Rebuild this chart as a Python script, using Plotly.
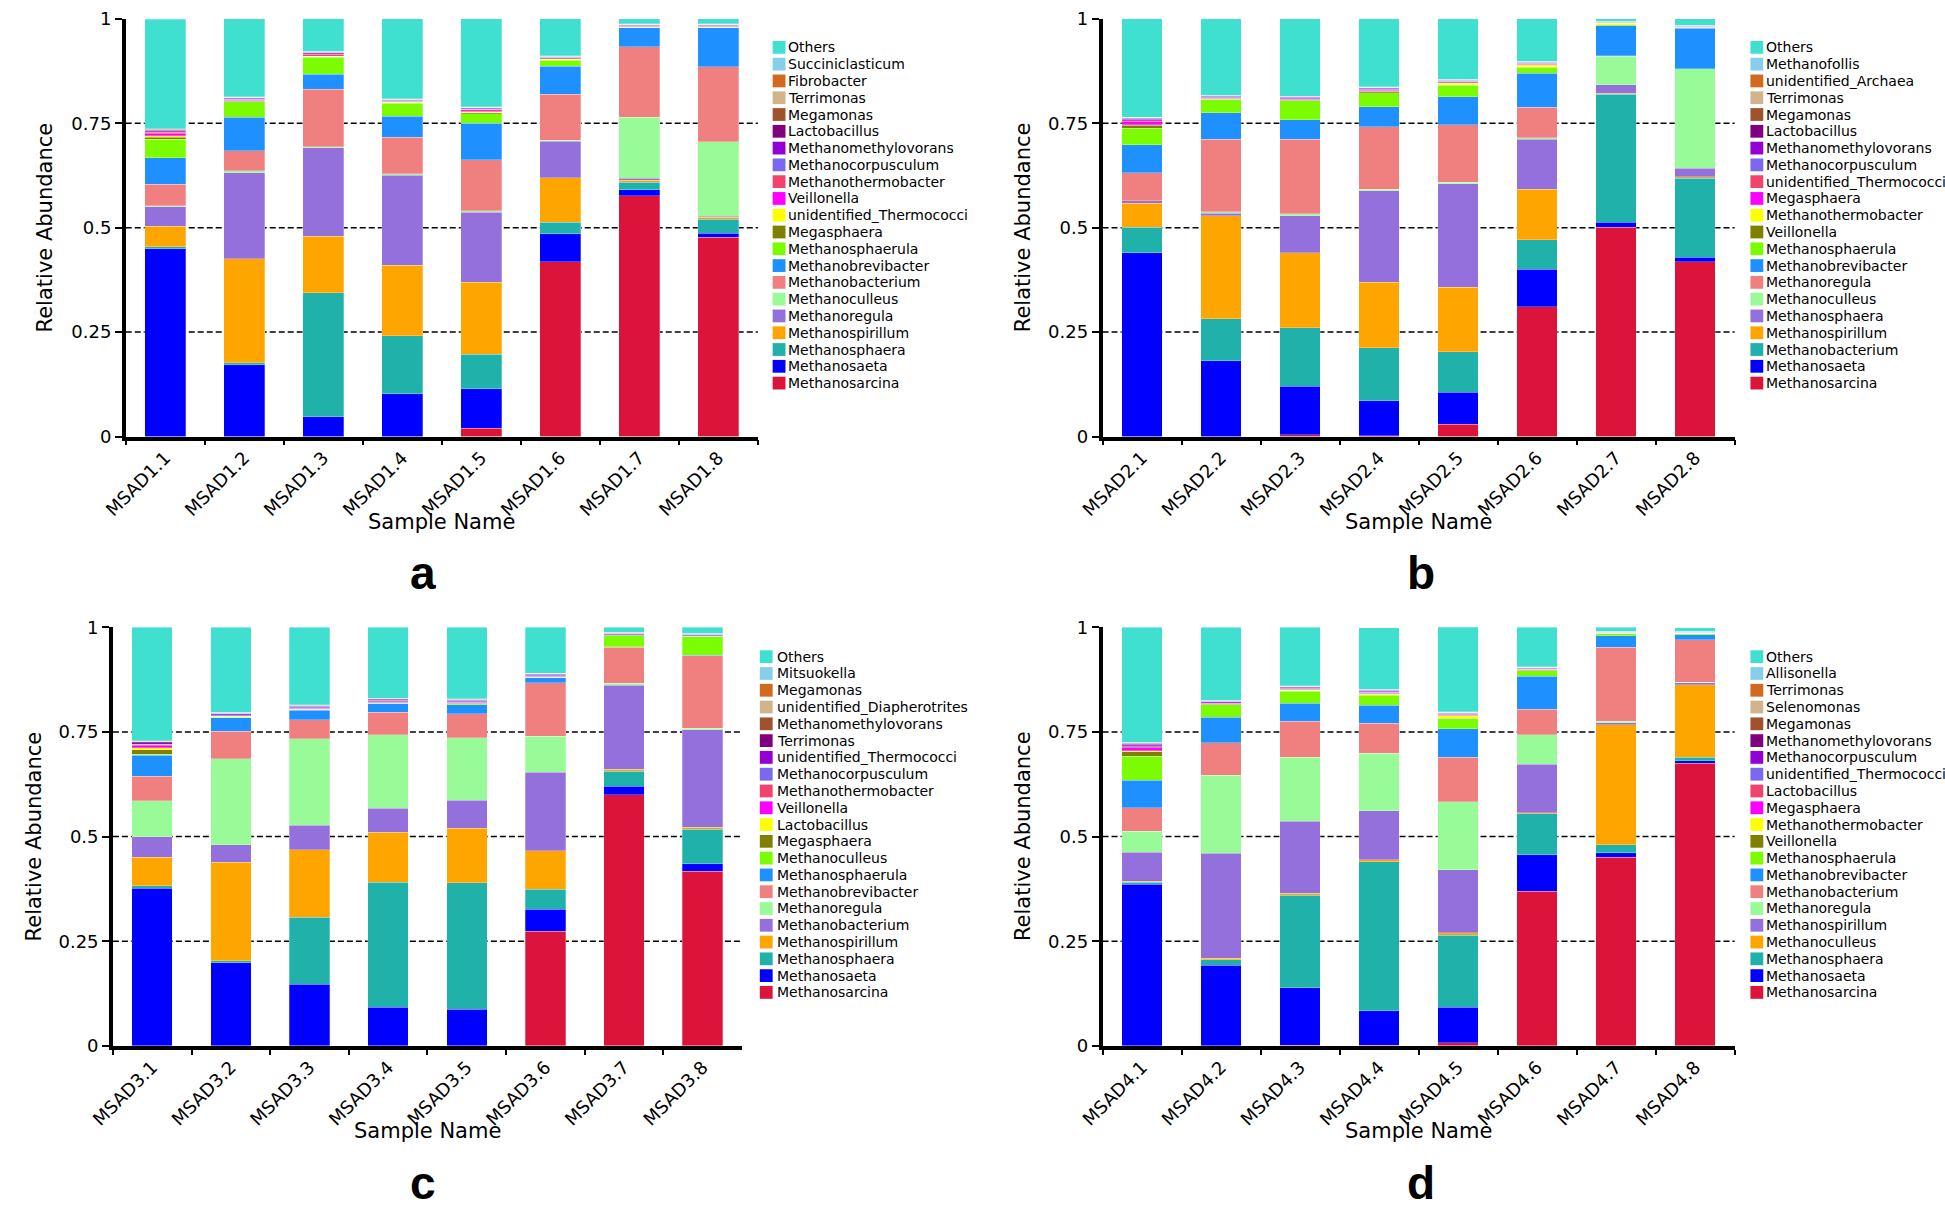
import plotly.graph_objects as go

W, H = 1945, 1220

COLORS = ["#40E0D0", "#87CEEB", "#D2691E", "#D2B48C", "#A0522D", "#800080", "#9400D3",
          "#7B68EE", "#F0436E", "#FF00FF", "#FFFF00", "#808000", "#7CFC00", "#1E90FF",
          "#F08080", "#98FB98", "#9370DB", "#FFA500", "#20B2AA", "#0000FF", "#DC143C"]

# ---------------- panel a ----------------
SAMPLES_A = ["MSAD1.1", "MSAD1.2", "MSAD1.3", "MSAD1.4", "MSAD1.5", "MSAD1.6", "MSAD1.7", "MSAD1.8"]
GENERA_A = ["Others", "Succiniclasticum", "Fibrobacter", "Terrimonas", "Megamonas", "Lactobacillus",
            "Methanomethylovorans", "Methanocorpusculum", "Methanothermobacter", "Veillonella",
            "unidentified_Thermococci", "Megasphaera", "Methanosphaerula", "Methanobrevibacter",
            "Methanobacterium", "Methanoculleus", "Methanoregula", "Methanospirillum",
            "Methanosphaera", "Methanosaeta", "Methanosarcina"]
ABUND_A = [
    [0.263, 0.187, 0.078, 0.191, 0.211, 0.088, 0.0115, 0.0115],
    [0.001, 0.0005, 0.0005, 0.0005, 0.0005, 0.0005, 0.001, 0.001],
    [0.0005, 0.0005, 0.0005, 0.0005, 0.0005, 0.0005, 0.0005, 0.0005],
    [0.001, 0.0005, 0.0005, 0.0005, 0.0005, 0.0005, 0.001, 0.001],
    [0.001, 0.0005, 0.0005, 0.0005, 0.0005, 0.0005, 0.0005, 0.0005],
    [0.001, 0.001, 0.001, 0.001, 0.001, 0.001, 0.0005, 0.0005],
    [0.002, 0.002, 0.002, 0.001, 0.002, 0.001, 0.001, 0.001],
    [0.002, 0.002, 0.002, 0.002, 0.002, 0.001, 0.002, 0.002],
    [0.003, 0.001, 0.004, 0.002, 0.003, 0.003, 0.0005, 0.0005],
    [0.005, 0.001, 0.001, 0.001, 0.002, 0.001, 0.0005, 0.0005],
    [0.004, 0.001, 0.001, 0.001, 0.002, 0.001, 0.0005, 0.0005],
    [0.004, 0.001, 0.001, 0.001, 0.002, 0.001, 0.0005, 0.0005],
    [0.045, 0.038, 0.041, 0.031, 0.023, 0.014, 0.001, 0.001],
    [0.063, 0.080, 0.035, 0.050, 0.087, 0.068, 0.046, 0.094],
    [0.052, 0.048, 0.138, 0.088, 0.123, 0.110, 0.168, 0.179],
    [0.002, 0.004, 0.003, 0.003, 0.003, 0.002, 0.147, 0.179],
    [0.047, 0.206, 0.211, 0.216, 0.167, 0.087, 0.004, 0.002],
    [0.048, 0.249, 0.136, 0.169, 0.173, 0.107, 0.005, 0.005],
    [0.005, 0.005, 0.297, 0.139, 0.082, 0.028, 0.018, 0.033],
    [0.450, 0.172, 0.047, 0.102, 0.095, 0.066, 0.014, 0.010],
    [0.0, 0.0, 0.0, 0.0, 0.020, 0.419, 0.577, 0.477],
]

# ---------------- panel b ----------------
SAMPLES_B = ["MSAD2.1", "MSAD2.2", "MSAD2.3", "MSAD2.4", "MSAD2.5", "MSAD2.6", "MSAD2.7", "MSAD2.8"]
GENERA_B = ["Others", "Methanofollis", "unidentified_Archaea", "Terrimonas", "Megamonas",
            "Lactobacillus", "Methanomethylovorans", "Methanocorpusculum",
            "unidentified_Thermococci", "Megasphaera", "Methanothermobacter", "Veillonella",
            "Methanosphaerula", "Methanobrevibacter", "Methanoregula", "Methanoculleus",
            "Methanosphaera", "Methanospirillum", "Methanobacterium", "Methanosaeta",
            "Methanosarcina"]
ABUND_B = [
    [0.235, 0.183, 0.185, 0.163, 0.145, 0.102, 0.0055, 0.015],
    [0.0005, 0.0005, 0.0005, 0.0005, 0.0005, 0.0005, 0.001, 0.001],
    [0.0005, 0.0005, 0.0005, 0.0005, 0.0005, 0.0005, 0.0005, 0.0005],
    [0.0005, 0.0005, 0.0005, 0.0005, 0.0005, 0.0005, 0.0005, 0.0005],
    [0.0005, 0.0005, 0.0005, 0.0005, 0.0005, 0.0005, 0.0005, 0.0005],
    [0.001, 0.001, 0.001, 0.001, 0.001, 0.001, 0.0005, 0.0005],
    [0.001, 0.002, 0.001, 0.002, 0.001, 0.001, 0.0005, 0.0005],
    [0.002, 0.002, 0.002, 0.003, 0.002, 0.001, 0.0005, 0.0005],
    [0.004, 0.001, 0.002, 0.002, 0.002, 0.002, 0.0005, 0.0005],
    [0.009, 0.001, 0.001, 0.001, 0.001, 0.001, 0.0005, 0.0005],
    [0.001, 0.001, 0.001, 0.001, 0.004, 0.005, 0.003, 0.0005],
    [0.007, 0.001, 0.001, 0.002, 0.001, 0.001, 0.0005, 0.0005],
    [0.039, 0.031, 0.045, 0.033, 0.027, 0.014, 0.002, 0.002],
    [0.067, 0.063, 0.047, 0.048, 0.067, 0.082, 0.072, 0.096],
    [0.067, 0.174, 0.178, 0.150, 0.138, 0.073, 0.001, 0.001],
    [0.001, 0.003, 0.005, 0.004, 0.004, 0.003, 0.069, 0.238],
    [0.005, 0.006, 0.089, 0.219, 0.247, 0.120, 0.020, 0.020],
    [0.058, 0.247, 0.180, 0.156, 0.155, 0.121, 0.003, 0.004],
    [0.061, 0.100, 0.139, 0.127, 0.097, 0.070, 0.306, 0.189],
    [0.440, 0.182, 0.117, 0.084, 0.077, 0.090, 0.012, 0.010],
    [0.0, 0.0, 0.004, 0.002, 0.029, 0.311, 0.501, 0.419],
]

# ---------------- panel c ----------------
SAMPLES_C = ["MSAD3.1", "MSAD3.2", "MSAD3.3", "MSAD3.4", "MSAD3.5", "MSAD3.6", "MSAD3.7", "MSAD3.8"]
GENERA_C = ["Others", "Mitsuokella", "Megamonas", "unidentified_Diapherotrites",
            "Methanomethylovorans", "Terrimonas", "unidentified_Thermococci",
            "Methanocorpusculum", "Methanothermobacter", "Veillonella", "Lactobacillus",
            "Megasphaera", "Methanoculleus", "Methanosphaerula", "Methanobrevibacter",
            "Methanoregula", "Methanobacterium", "Methanospirillum", "Methanosphaera",
            "Methanosaeta", "Methanosarcina"]
ABUND_C = [
    [0.271, 0.2035, 0.185, 0.1695, 0.1705, 0.1095, 0.011, 0.014],
    [0.0005, 0.0005, 0.0005, 0.0005, 0.0005, 0.0005, 0.001, 0.001],
    [0.0005, 0.0005, 0.0005, 0.0005, 0.0005, 0.0005, 0.0005, 0.0005],
    [0.001, 0.0005, 0.0005, 0.0005, 0.0005, 0.0005, 0.0005, 0.0005],
    [0.001, 0.001, 0.001, 0.001, 0.001, 0.001, 0.0005, 0.0005],
    [0.002, 0.001, 0.001, 0.002, 0.001, 0.001, 0.0005, 0.0005],
    [0.003, 0.002, 0.002, 0.002, 0.002, 0.001, 0.001, 0.001],
    [0.002, 0.002, 0.002, 0.002, 0.002, 0.002, 0.002, 0.002],
    [0.002, 0.001, 0.001, 0.001, 0.001, 0.001, 0.0005, 0.0005],
    [0.005, 0.001, 0.001, 0.001, 0.001, 0.001, 0.0005, 0.0005],
    [0.005, 0.001, 0.001, 0.001, 0.002, 0.001, 0.0005, 0.0005],
    [0.011, 0.001, 0.001, 0.001, 0.001, 0.001, 0.001, 0.001],
    [0.002, 0.001, 0.002, 0.001, 0.002, 0.001, 0.027, 0.044],
    [0.050, 0.033, 0.023, 0.020, 0.022, 0.012, 0.001, 0.001],
    [0.059, 0.065, 0.045, 0.054, 0.057, 0.127, 0.086, 0.173],
    [0.086, 0.206, 0.207, 0.176, 0.149, 0.087, 0.005, 0.004],
    [0.049, 0.042, 0.058, 0.057, 0.067, 0.187, 0.200, 0.233],
    [0.068, 0.235, 0.161, 0.119, 0.130, 0.092, 0.005, 0.004],
    [0.005, 0.005, 0.160, 0.299, 0.302, 0.048, 0.036, 0.083],
    [0.377, 0.198, 0.147, 0.092, 0.088, 0.052, 0.020, 0.018],
    [0.0, 0.0, 0.0005, 0.0, 0.0, 0.274, 0.600, 0.417],
]

# ---------------- panel d ----------------
SAMPLES_D = ["MSAD4.1", "MSAD4.2", "MSAD4.3", "MSAD4.4", "MSAD4.5", "MSAD4.6", "MSAD4.7", "MSAD4.8"]
GENERA_D = ["Others", "Allisonella", "Terrimonas", "Selenomonas", "Megamonas",
            "Methanomethylovorans", "Methanocorpusculum", "unidentified_Thermococci",
            "Lactobacillus", "Megasphaera", "Methanothermobacter", "Veillonella",
            "Methanosphaerula", "Methanobrevibacter", "Methanobacterium", "Methanoregula",
            "Methanospirillum", "Methanoculleus", "Methanosphaera", "Methanosaeta",
            "Methanosarcina"]
ABUND_D = [
    [0.275, 0.175, 0.140, 0.1475, 0.2035, 0.095, 0.0095, 0.0085],
    [0.0005, 0.0005, 0.0005, 0.0005, 0.0005, 0.0005, 0.001, 0.001],
    [0.0005, 0.0005, 0.0005, 0.0005, 0.0005, 0.0005, 0.0005, 0.0005],
    [0.001, 0.0005, 0.0005, 0.0005, 0.0005, 0.0005, 0.0005, 0.0005],
    [0.001, 0.0005, 0.0005, 0.001, 0.001, 0.0005, 0.0005, 0.0005],
    [0.002, 0.001, 0.002, 0.002, 0.001, 0.001, 0.0005, 0.0005],
    [0.003, 0.002, 0.002, 0.002, 0.002, 0.001, 0.0005, 0.0005],
    [0.002, 0.001, 0.002, 0.002, 0.002, 0.001, 0.001, 0.001],
    [0.003, 0.001, 0.001, 0.001, 0.001, 0.001, 0.0005, 0.0005],
    [0.007, 0.001, 0.001, 0.001, 0.001, 0.001, 0.0005, 0.0005],
    [0.002, 0.001, 0.002, 0.002, 0.005, 0.001, 0.0005, 0.0005],
    [0.011, 0.001, 0.001, 0.002, 0.001, 0.001, 0.0005, 0.0005],
    [0.057, 0.030, 0.029, 0.023, 0.025, 0.013, 0.004, 0.002],
    [0.066, 0.061, 0.043, 0.043, 0.068, 0.079, 0.028, 0.012],
    [0.056, 0.078, 0.086, 0.072, 0.106, 0.061, 0.177, 0.102],
    [0.050, 0.186, 0.153, 0.137, 0.162, 0.070, 0.003, 0.001],
    [0.070, 0.251, 0.171, 0.118, 0.151, 0.116, 0.005, 0.004],
    [0.002, 0.003, 0.005, 0.004, 0.006, 0.003, 0.287, 0.174],
    [0.005, 0.014, 0.221, 0.356, 0.172, 0.098, 0.019, 0.008],
    [0.386, 0.192, 0.137, 0.083, 0.084, 0.087, 0.010, 0.006],
    [0.0, 0.0, 0.002, 0.001, 0.008, 0.369, 0.451, 0.675],
]

Y_TICKS = [0, 0.25, 0.5, 0.75, 1]
Y_TICKTEXT = ["0", "0.25", "0.5", "0.75", "1"]
GRID_LEVELS = [0.25, 0.5, 0.75]
PANEL_LABELS = ["a", "b", "c", "d"]

# layout geometry (pixels)
GEOM = [
    dict(x0=103, x1=743, top=8, bottom=433, sq=758, tx=773, ly0=37, ytx=21, lab=404, laby=572),
    dict(x0=1092, x1=1732, top=8, bottom=433, sq=1748, tx=1763, ly0=37, ytx=1011, lab=1414, laby=572),
    dict(x0=90, x1=727, top=627, bottom=1053, sq=745, tx=761, ly0=657, ytx=10, lab=404, laby=1193),
    dict(x0=1092, x1=1732, top=627, bottom=1053, sq=1748, tx=1763, ly0=657, ytx=1011, lab=1414, laby=1193),
]
PANELS = [(SAMPLES_A, GENERA_A, ABUND_A), (SAMPLES_B, GENERA_B, ABUND_B),
          (SAMPLES_C, GENERA_C, ABUND_C), (SAMPLES_D, GENERA_D, ABUND_D)]


def px(x):
    return x / W


def py(y):
    return 1 - y / H


FONT = "DejaVu Sans"
fig = go.Figure()
shapes = []
annotations = []
LSTEP = 17.08

for i, ((samples, genera, abund), g) in enumerate(zip(PANELS, GEOM)):
    n = i + 1
    xa = "x" if n == 1 else f"x{n}"
    ya = "y" if n == 1 else f"y{n}"
    # stacked bars, bottom (last legend entry) first
    for k in range(len(genera) - 1, -1, -1):
        fig.add_trace(go.Bar(
            x=samples, y=abund[k], name=genera[k], xaxis=xa, yaxis=ya,
            marker=dict(color=COLORS[k], line=dict(width=0.6, color="rgba(255,255,255,0.45)")),
            showlegend=False,
        ))
    xkey = "xaxis" if n == 1 else f"xaxis{n}"
    ykey = "yaxis" if n == 1 else f"yaxis{n}"
    fig.update_layout(**{
        xkey: dict(domain=[px(g["x0"]), px(g["x1"])], anchor=ya, type="category",
                   range=[-0.5, 7.5], showline=True, linewidth=3.5, linecolor="black",
                   ticks="outside", tickson="boundaries", ticklen=5, tickwidth=2,
                   tickcolor="black", tickangle=-45, showgrid=False, zeroline=False,
                   tickfont=dict(family=FONT, size=18, color="black")),
        ykey: dict(domain=[py(g["bottom"]), py(g["top"])], anchor=xa, range=[0, 1],
                   tickvals=Y_TICKS, ticktext=Y_TICKTEXT, showline=True, linewidth=3.5,
                   linecolor="black", ticks="outside", ticklen=7, tickwidth=2,
                   tickcolor="black", showgrid=False, zeroline=False,
                   tickfont=dict(family=FONT, size=18, color="black")),
    })
    # dashed reference lines
    for v in GRID_LEVELS:
        shapes.append(dict(type="line", xref=f"{xa} domain", yref=ya, x0=0, x1=1, y0=v, y1=v,
                           line=dict(color="black", width=1.5, dash="6px,3px"), layer="below"))
    # axis titles
    annotations.append(dict(text="Sample Name", xref="paper", yref="paper",
                            x=px((g["x0"] + g["x1"]) / 2), y=py(g["bottom"] + 87),
                            xanchor="center", yanchor="middle", showarrow=False,
                            font=dict(family=FONT, size=21, color="black")))
    annotations.append(dict(text="Relative Abundance", xref="paper", yref="paper",
                            x=px(g["ytx"]), y=py((g["top"] + g["bottom"]) / 2), textangle=-90,
                            xanchor="center", yanchor="middle", showarrow=False,
                            font=dict(family=FONT, size=21, color="black")))
    # panel label
    annotations.append(dict(text=f"<b>{PANEL_LABELS[i]}</b>", xref="paper", yref="paper",
                            x=px(g["lab"]), y=py(g["laby"]), xanchor="center", yanchor="middle",
                            showarrow=False,
                            font=dict(family="Liberation Sans", size=46, color="black")))
    # legend (drawn as squares and text)
    for k, name in enumerate(genera):
        cy = g["ly0"] + k * LSTEP
        shapes.append(dict(type="rect", xref="paper", yref="paper",
                           x0=px(g["sq"]), x1=px(g["sq"] + 13),
                           y0=py(cy + 6.5), y1=py(cy - 6.5),
                           fillcolor=COLORS[k], line=dict(width=0)))
        annotations.append(dict(text=name, xref="paper", yref="paper",
                                x=px(g["tx"]), y=py(cy), xanchor="left", yanchor="middle",
                                showarrow=False, borderpad=0,
                                font=dict(family=FONT, size=14, color="black")))

fig.update_layout(
    width=W, height=H, autosize=False,
    margin=dict(l=0, r=0, t=0, b=0),
    paper_bgcolor="white", plot_bgcolor="white",
    barmode="stack", bargap=0.485,
    showlegend=False,
    shapes=shapes, annotations=annotations,
    font=dict(family=FONT, color="black"),
)

fig.write_html("out.html",
               config={"displayModeBar": False},
               post_script="document.body.style.margin='0px';document.body.style.overflow='hidden';")
